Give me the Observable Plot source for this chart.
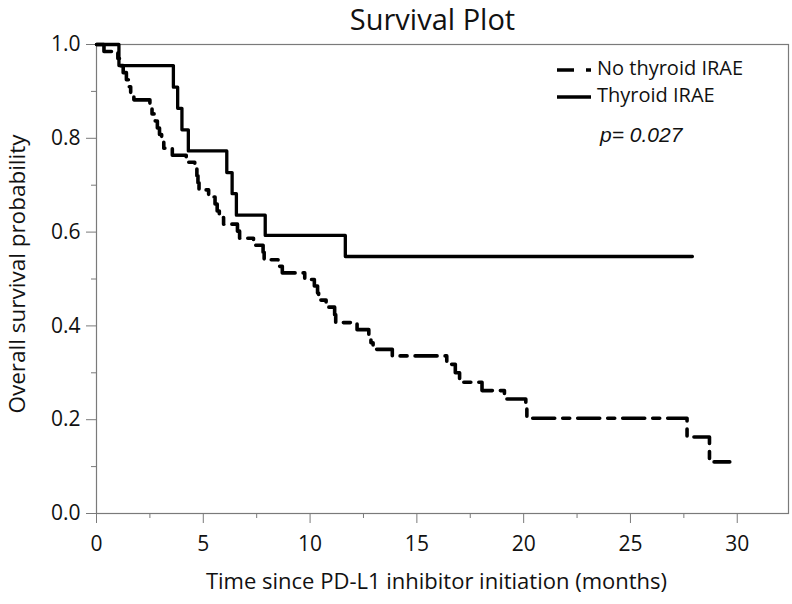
<!DOCTYPE html>
<html><head><meta charset="utf-8">
<script src="https://cdn.jsdelivr.net/npm/d3@7"></script>
<script src="https://cdn.jsdelivr.net/npm/@observablehq/plot@0.6"></script>
<style>body{margin:0;background:#fff} svg{display:block}</style>
</head><body><div id="chart"></div>
<script>
// No thyroid IRAE (dashed) – Kaplan-Meier step points
const noThyroidTime = [0,0.35,1.0,1.1,1.25,1.4,1.5,1.6,1.75,2.5,2.6,2.75,2.85,2.95,3.05,3.15,3.55,4.2,4.6,4.7,4.75,4.8,5.25,5.55,5.65,5.75,5.95,6.6,6.7,7.35,7.8,7.85,8.5,8.7,9.75,10.2,10.35,10.4,10.75,11.15,11.2,12.2,12.75,12.85,12.95,13.85,16.4,16.8,17.0,18.05,19.1,20.1,20.15,27.65,28.7,29.65];
const noThyroidSurv = [1,0.985,0.970,0.955,0.940,0.925,0.910,0.896,0.882,0.867,0.852,0.837,0.822,0.808,0.793,0.779,0.764,0.749,0.735,0.720,0.705,0.690,0.675,0.660,0.645,0.631,0.617,0.602,0.587,0.572,0.557,0.541,0.527,0.513,0.499,0.485,0.470,0.455,0.440,0.424,0.407,0.392,0.378,0.364,0.350,0.336,0.318,0.300,0.280,0.262,0.244,0.223,0.203,0.163,0.110,0.110];
// Thyroid IRAE (solid)
const thyroidTime = [0,1.05,3.6,3.8,4.0,4.3,6.1,6.35,6.55,7.9,11.65,27.9];
const thyroidSurv = [1,0.955,0.909,0.864,0.818,0.773,0.727,0.682,0.636,0.593,0.548,0.548];

const xTicks = [0,5,10,15,20,25,30];
const xMinorTicks = [2.5,7.5,12.5,17.5,22.5,27.5];
const yTicks = [0,0.2,0.4,0.6,0.8,1.0];
const yMinorTicks = [0.1,0.3,0.5,0.7,0.9];
const seriesNames = ["No thyroid IRAE","Thyroid IRAE"];
const titleText = "Survival Plot";
const xLabel = "Time since PD-L1 inhibitor initiation (months)";
const yLabel = "Overall survival probability";
const pText = "p= 0.027";

const noThyroid = noThyroidTime.map((t,i)=>({t, s:noThyroidSurv[i]}));
const thyroid = thyroidTime.map((t,i)=>({t, s:thyroidSurv[i]}));

const FONT = "'Open Sans', 'Noto Sans', sans-serif";
const axisGray = "#7a7a7a";

const plot = Plot.plot({
  width: 792, height: 604,
  marginLeft: 96, marginRight: 4, marginTop: 44, marginBottom: 91,
  style: {fontFamily: FONT, fontSize: "21px", color: "#111", background: "#fff"},
  x: {domain: [0, 32.4]},
  y: {domain: [0, 1]},
  marks: [
    Plot.frame({stroke: axisGray, strokeWidth: 1.2}),
    Plot.axisX(xTicks, {tickSize: 10, tickPadding: 13, stroke: axisGray, tickFormat: d => String(d), label: null, fill: "#111"}),
    Plot.axisX(xMinorTicks, {tickSize: 5, text: null, stroke: axisGray, label: null}),
    Plot.axisY(yTicks, {tickSize: 10, tickPadding: 6, stroke: axisGray, tickFormat: d3.format(".1f"), label: null, fill: "#111"}),
    Plot.axisY(yMinorTicks, {tickSize: 5, text: null, stroke: axisGray, label: null}),
    Plot.line(noThyroid, {x: "t", y: "s", curve: "step-after", stroke: "#000", strokeWidth: 3.6, strokeDasharray: "22,8,7,8"}),
    Plot.line(thyroid, {x: "t", y: "s", curve: "step-after", stroke: "#000", strokeWidth: 3.3}),
    Plot.text([titleText], {text: d => d, frameAnchor: "top", dx: -10, dy: -24, fontSize: 29, textAnchor: "middle", lineAnchor: "middle", fill: "#111"}),
    Plot.text([xLabel], {text: d => d, frameAnchor: "bottom", dx: -6, dy: 68, fontSize: 22, textAnchor: "middle", lineAnchor: "middle", fill: "#111"}),
    Plot.text([yLabel], {text: d => d, frameAnchor: "left", dx: -79, dy: -5, rotate: -90, fontSize: 22.5, textAnchor: "middle", lineAnchor: "middle", fill: "#111"})
  ]
});

// legend
const svg = d3.select(plot);
const lg = svg.append("g").attr("font-family", FONT).attr("text-anchor", "start");
lg.append("line").attr("x1", 557).attr("x2", 591).attr("y1", 70).attr("y2", 70)
  .attr("stroke", "#000").attr("stroke-width", 3.6).attr("stroke-dasharray", "17,12,5,100");
lg.append("line").attr("x1", 557).attr("x2", 591).attr("y1", 97).attr("y2", 97)
  .attr("stroke", "#000").attr("stroke-width", 3.3);
lg.append("text").attr("x", 597).attr("y", 75).attr("font-size", 20).attr("fill", "#111").text(seriesNames[0]);
lg.append("text").attr("x", 597).attr("y", 102).attr("font-size", 20).attr("fill", "#111").text(seriesNames[1]);
lg.append("text").attr("x", 600).attr("y", 142).attr("font-size", 21).attr("font-style", "italic")
  .attr("font-family", "'Liberation Sans', Arial, sans-serif").attr("fill", "#111").text(pText);

document.getElementById("chart").appendChild(plot);
</script>
</body></html>
